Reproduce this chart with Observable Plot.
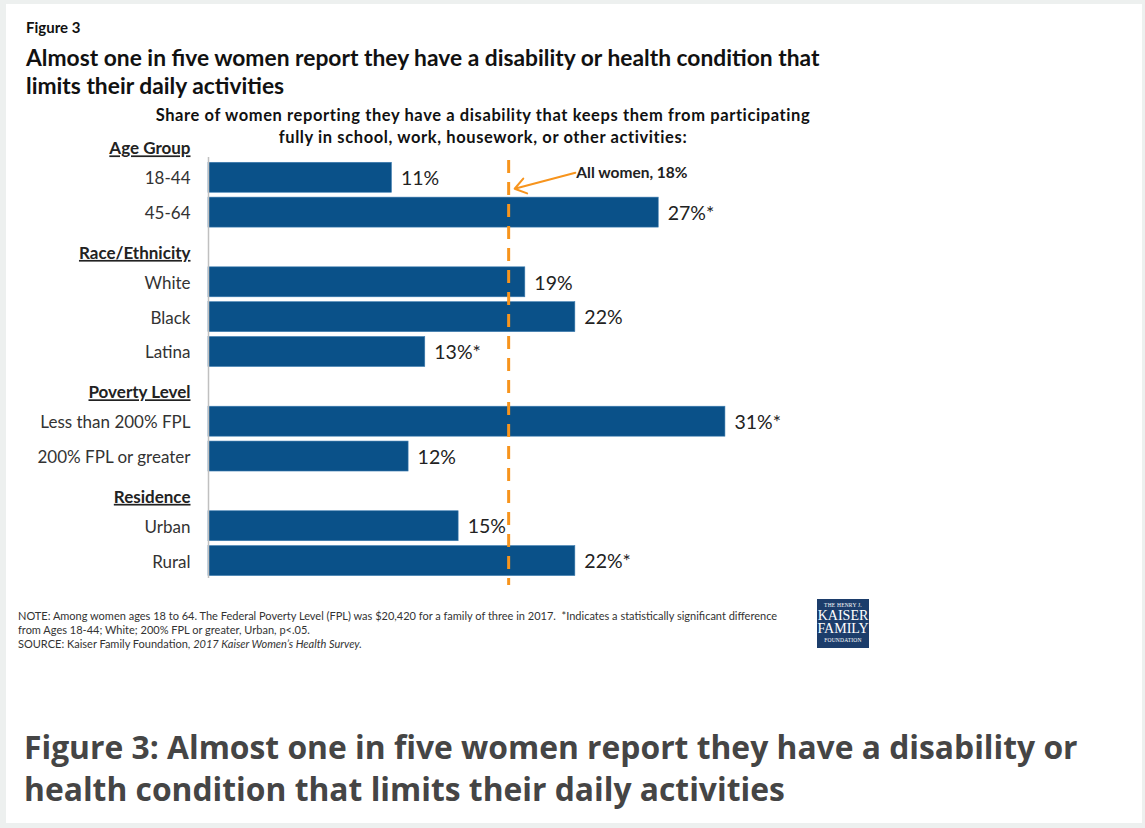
<!DOCTYPE html>
<html>
<head>
<meta charset="utf-8">
<script src="https://cdn.jsdelivr.net/npm/d3@7"></script>
<script src="https://cdn.jsdelivr.net/npm/@observablehq/plot@0.6"></script>
<style>
  html, body { margin: 0; padding: 0; }
  body { width: 1145px; height: 828px; background: #edf0ef; position: relative; overflow: hidden; font-family: Lato, "Open Sans", sans-serif; }
  #card { position: absolute; left: 6px; top: 4px; width: 1136px; height: 819px; background: #fff; }
  .abs { position: absolute; white-space: nowrap; }
  #fig { left: 26px; top: 18px; font-size: 15px; font-weight: bold; color: #111; }
  #title { left: 26px; top: 43px; font-size: 22.8px; font-weight: bold; color: #111; line-height: 28px; }
  #subtitle { left: 130px; width: 706px; top: 104px; font-size: 16.5px; letter-spacing: 0.6px; font-weight: bold; color: #111; line-height: 22px; text-align: center; }
  #chart { left: 0; top: 120px; line-height: 0; }
  #chart svg { display: block; }
  #note { left: 18px; top: 609px; font-size: 11px; color: #333; line-height: 14px; }
  #logo { left: 817px; top: 599px; width: 52px; height: 49px; background: #1c3d6b; color: #fff; font-family: "Liberation Serif", "DejaVu Serif", serif; text-align: center; }
  #logo .s { font-size: 5.5px; line-height: 7px; letter-spacing: 0.2px; }
  #logo .b { font-size: 14px; line-height: 13px; }
  #caption { left: 24px; top: 726px; font-family: "Open Sans", sans-serif; font-size: 31.8px; font-weight: bold; color: #454545; line-height: 42px; }
  .hdr text { text-decoration: underline; }
</style>
</head>
<body>
<div id="card"></div>
<div class="abs" id="fig">Figure 3</div>
<div class="abs" id="title">Almost one in five women report they have a disability or health condition that<br>limits their daily activities</div>
<div class="abs" id="subtitle">Share of women reporting they have a disability that keeps them from participating<br>fully in school, work, housework, or other activities:</div>
<div class="abs" id="chart"></div>
<div class="abs" id="note">NOTE: Among women ages 18 to 64. The Federal Poverty Level (FPL) was $20,420 for a family of three in 2017. &nbsp;*Indicates a statistically significant difference<br>from Ages 18-44; White; 200% FPL or greater, Urban, p&lt;.05.<br>SOURCE: Kaiser Family Foundation, <i>2017 Kaiser Women’s Health Survey.</i></div>
<div class="abs" id="logo"><div class="s" style="margin-top:3px">THE HENRY J.</div><div class="b">KAISER</div><div class="b">FAMILY</div><div class="s" style="margin-top:2px">FOUNDATION</div></div>
<div class="abs" id="caption">Figure 3: Almost one in five women report they have a disability or<br>health condition that limits their daily activities</div>
<script>
// ---- data ----
const groups = ["Age Group", "Race/Ethnicity", "Poverty Level", "Residence"];
const categories = ["18-44", "45-64", "White", "Black", "Latina", "Less than 200% FPL", "200% FPL or greater", "Urban", "Rural"];
const categoryGroup = ["Age Group", "Age Group", "Race/Ethnicity", "Race/Ethnicity", "Race/Ethnicity", "Poverty Level", "Poverty Level", "Residence", "Residence"];
const values = [11, 27, 19, 22, 13, 31, 12, 15, 22];
const significant = [false, true, false, false, true, true, false, false, true];
const allWomenValue = 18;
const allWomenLabel = "All women, 18%";
const annotationLabelAt = 22; // x position (percent) of annotation text

// ---- build ----
const rows = categories.map((c, i) => ({
  category: c, group: categoryGroup[i], value: values[i],
  label: `${values[i]}%${significant[i] ? "*" : ""}`
}));
const domain = [];
for (const g of groups) {
  domain.push(g);
  for (const r of rows) if (r.group === g) domain.push(r.category);
}
const headers = groups.map(g => ({category: g}));
const orange = "#f7941d";
const blue = "#0a5189";

const chart = Plot.plot({
  width: 900,
  height: 470,
  marginLeft: 208,
  marginRight: 25,
  marginTop: 5,
  marginBottom: 12,
  style: {fontFamily: "Lato, 'Open Sans', sans-serif", background: "transparent"},
  x: {domain: [0, 40], axis: null},
  y: {domain, axis: null, paddingInner: 0.14, paddingOuter: 0.07, round: false},
  marks: [
    Plot.barX(rows, {x: "value", y: "category", fill: blue, stroke: "#3d7cb0", strokeWidth: 0.6}),
    Plot.ruleX([0], {stroke: "#c0c0c0", strokeWidth: 1.5, insetTop: 32}),
    Plot.ruleX([allWomenValue], {stroke: orange, strokeWidth: 3, strokeDasharray: "13,9", insetTop: 35, insetBottom: -7}),
    Plot.text(rows, {x: 0, y: "category", text: "category", textAnchor: "end", dx: -18, dy: 1, fontSize: 17, fill: "#333"}),
    Plot.text(headers, {x: 0, y: "category", text: "category", textAnchor: "end", dx: -18, dy: 6, fontSize: 17, fontWeight: "bold", fill: "#222", className: "hdr"}),
    Plot.text(rows, {x: "value", y: "category", text: "label", textAnchor: "start", dx: 9, dy: 1, fontSize: 19.5, fill: "#222"}),
    Plot.arrow([{x1: annotationLabelAt, x2: allWomenValue, y: categories[0]}], {
      x1: "x1", x2: "x2", y1: "y", y2: "y", stroke: orange, strokeWidth: 2, headLength: 10, headAngle: 70,
      render(index, scales, vals, dims, ctx, next) {
        const v = {...vals, y1: Array.from(vals.y1, d => d - 5), y2: Array.from(vals.y2, d => d + 11), x2: Array.from(vals.x2, d => d + 6)};
        return next(index, scales, v, dims, ctx);
      }
    }),
    Plot.text([{x: annotationLabelAt, y: categories[0], t: allWomenLabel}], {x: "x", y: "y", text: "t", textAnchor: "start", dx: 1, dy: -5, fontSize: 15.5, fontWeight: "bold", fill: "#222"})
  ]
});
document.getElementById("chart").appendChild(chart);
</script>
</body>
</html>
